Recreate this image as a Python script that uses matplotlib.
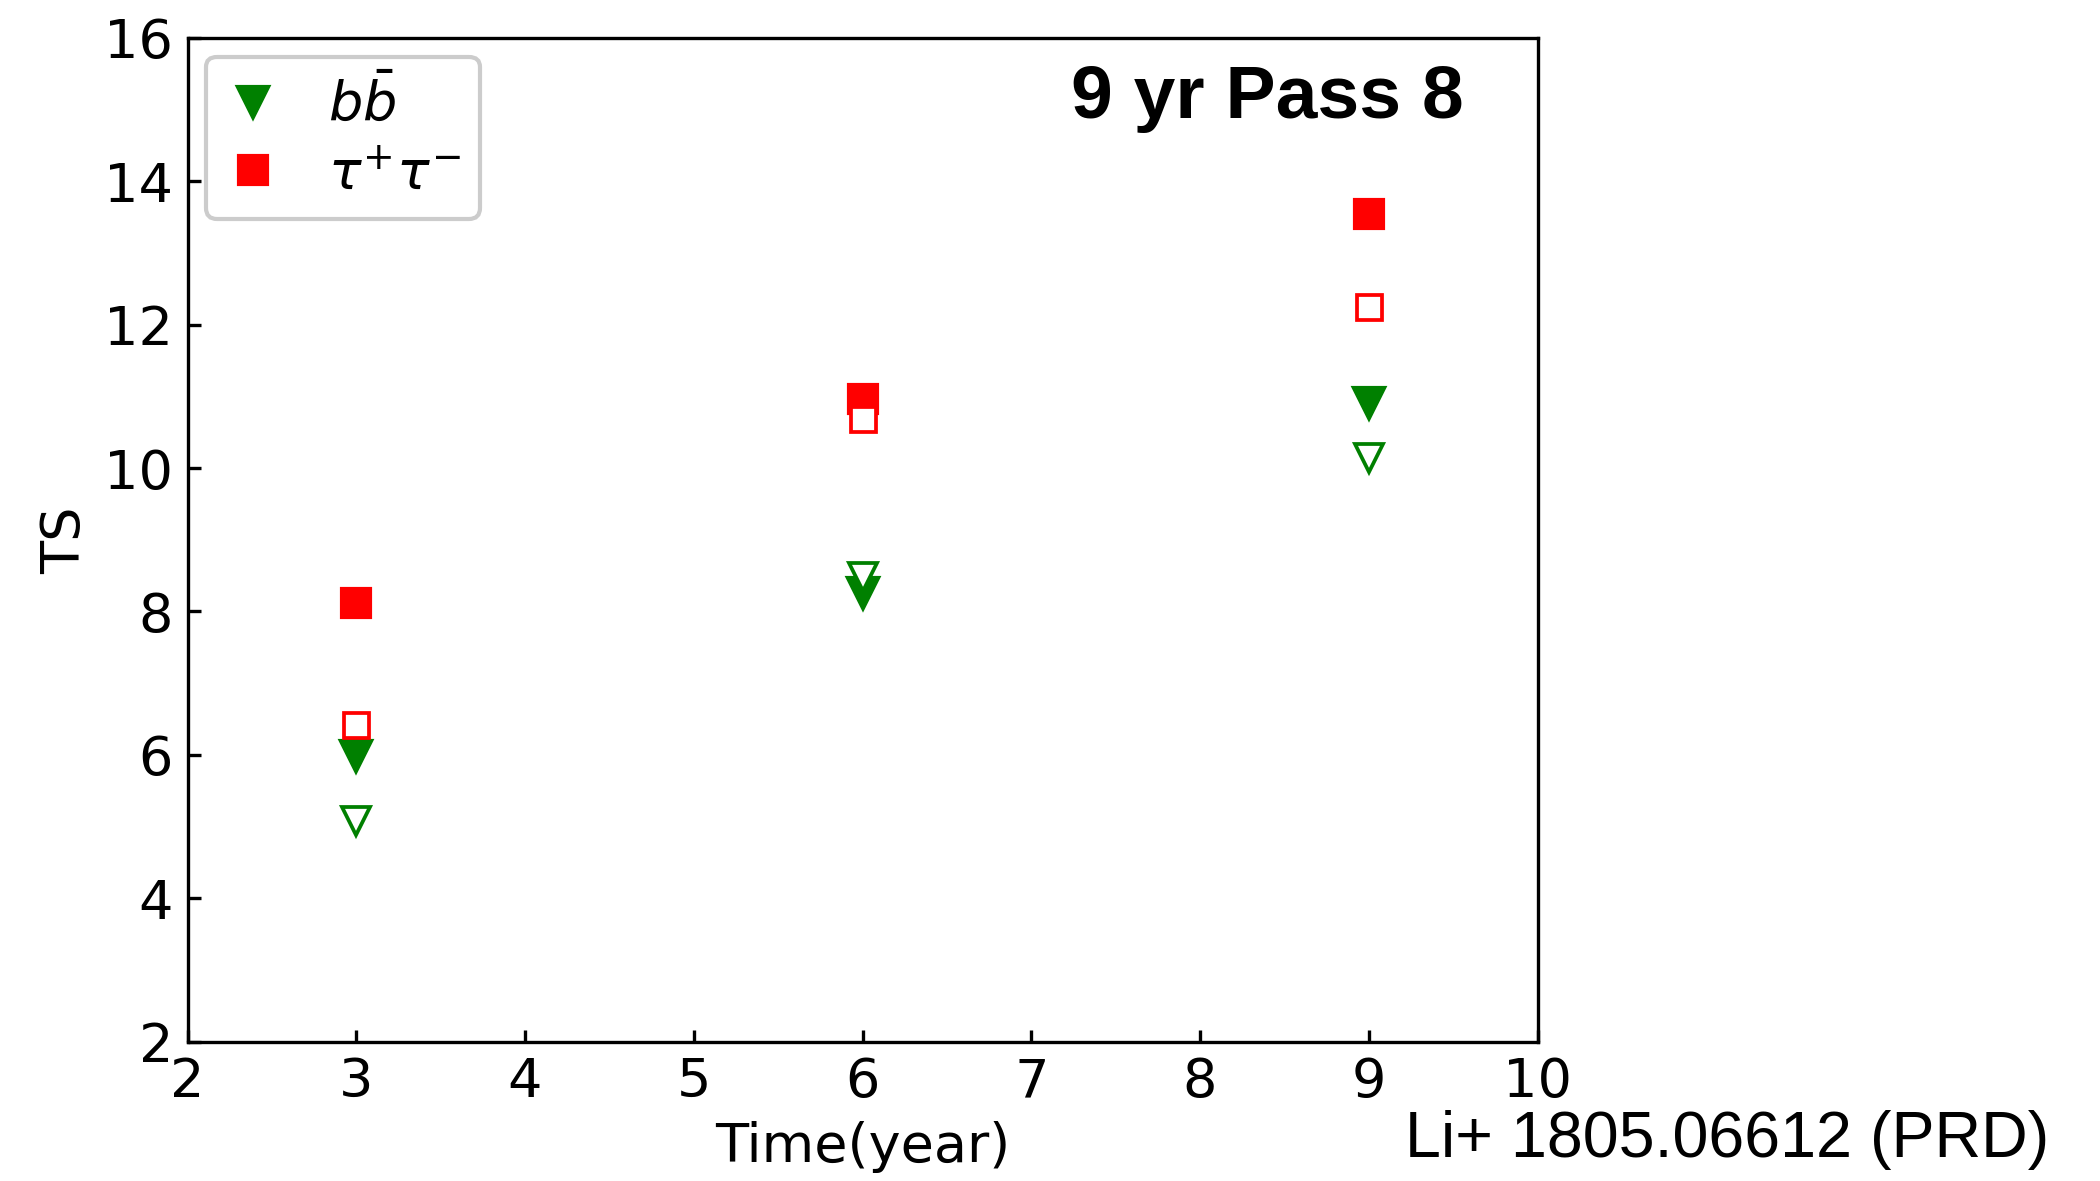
import matplotlib
matplotlib.use("Agg")
import matplotlib.pyplot as plt

# TS vs exposure time
years = [3, 6, 9]
ts_bb = [5.98, 8.25, 10.9]
ts_bb_open = [5.08, 8.48, 10.14]
ts_tau = [8.12, 10.96, 13.54]
ts_tau_open = [6.42, 10.68, 12.25]

x_ticks = [2, 3, 4, 5, 6, 7, 8, 9, 10]
y_ticks = [2, 4, 6, 8, 10, 12, 14, 16]

plt.rcParams['font.family'] = ['DejaVu Sans']

fig = plt.figure(figsize=(7, 3.937), dpi=300)
ax = fig.add_axes([0.0893, 0.118, 0.6429, 0.850])

ax.plot(years, ts_bb, 'v', color='green', ms=7, ls='none', label=r'$b\bar{b}$')
ax.plot(years, ts_tau, 's', color='red', ms=6.5, ls='none', label=r'$\tau^{+}\tau^{-}$')
ax.plot(years, ts_bb_open, 'v', mfc='white', mec='green', mew=0.9, ms=6.5, ls='none')
ax.plot(years, ts_tau_open, 's', mfc='white', mec='red', mew=0.9, ms=6, ls='none')

ax.set_xlim(2, 10)
ax.set_ylim(2, 16)
ax.set_xticks(x_ticks)
ax.set_yticks(y_ticks)
ax.tick_params(direction='in', labelsize=13, length=3, width=0.8)
ax.set_xlabel('Time(year)', fontsize=13, labelpad=3)
ax.set_ylabel('TS', fontsize=13, labelpad=3)

ax.legend(loc='upper left', fontsize=13, numpoints=1, handlelength=1.0, handletextpad=0.9,
          borderpad=0.35, labelspacing=0.3, borderaxespad=0.35,
          framealpha=1, edgecolor='#cccccc')

ax.text(0.945, 0.94, '9 yr Pass 8', transform=ax.transAxes, ha='right', va='center',
        fontsize=18, fontweight='bold', family=['Liberation Sans', 'DejaVu Sans'])

fig.text(0.976, 0.02, 'Li+ 1805.06612 (PRD)', ha='right', va='baseline', fontsize=15.5,
         family=['Liberation Sans Narrow', 'Liberation Sans', 'DejaVu Sans'])

fig.savefig('out.png', dpi=300)
